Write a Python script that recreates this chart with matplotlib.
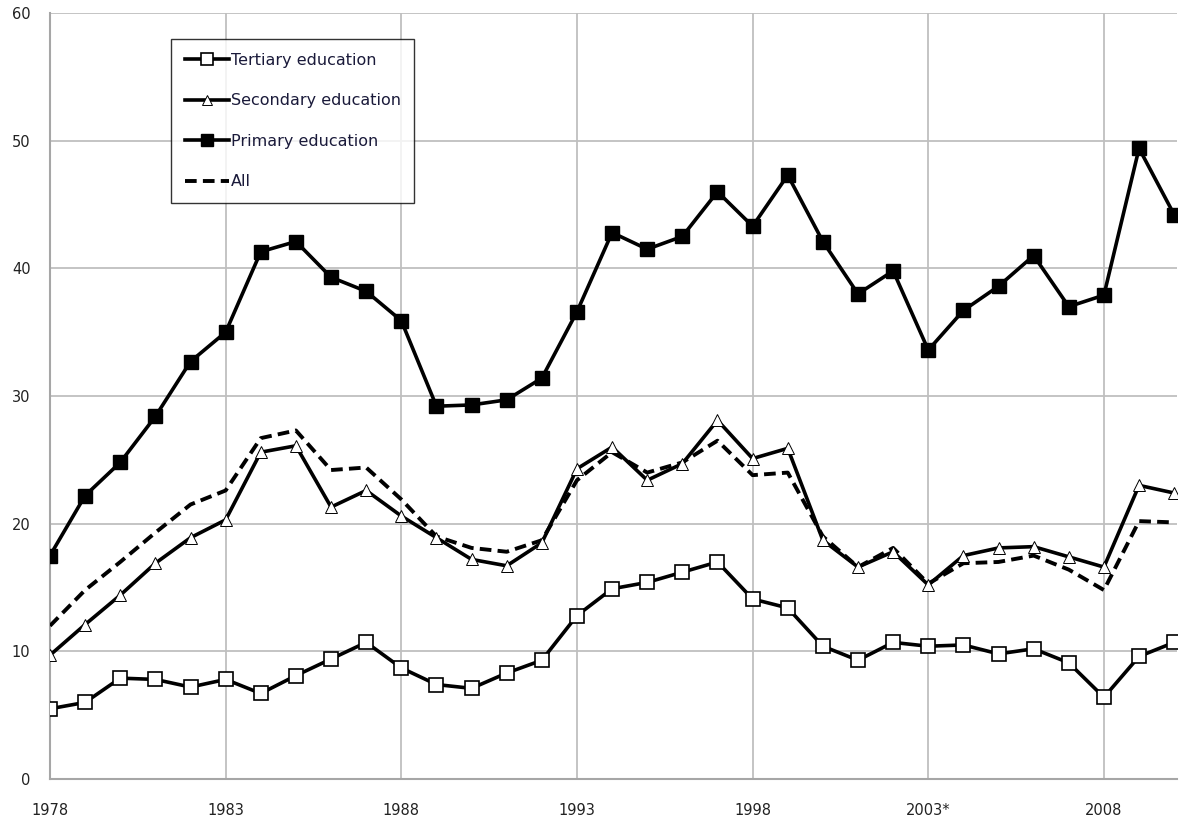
import numpy as np
import matplotlib
matplotlib.use("Agg")
import matplotlib.pyplot as plt

years = list(range(1978, 2011))

tertiary = [5.5, 6.0, 7.9, 7.8, 7.2, 7.8, 6.7, 8.1, 9.4, 10.7, 8.7,
            7.4, 7.1, 8.3, 9.3, 12.8, 14.9, 15.4, 16.2, 17.0, 14.1,
            13.4, 10.4, 9.3, 10.7, 10.4, 10.5, 9.8, 10.2, 9.1, 6.4,
            9.6, 10.7]
secondary = [9.7, 12.1, 14.4, 16.9, 18.9, 20.3, 25.6, 26.1, 21.3, 22.6, 20.6,
             18.9, 17.2, 16.7, 18.5, 24.3, 26.0, 23.4, 24.7, 28.1, 25.1,
             25.9, 18.7, 16.6, 17.8, 15.2, 17.5, 18.1, 18.2, 17.4, 16.6,
             23.0, 22.4]
primary = [17.5, 22.2, 24.8, 28.4, 32.7, 35.0, 41.3, 42.1, 39.3, 38.2, 35.9,
           29.2, 29.3, 29.7, 31.4, 36.6, 42.8, 41.5, 42.5, 46.0, 43.3,
           47.3, 42.1, 38.0, 39.8, 33.6, 36.7, 38.6, 41.0, 37.0, 37.9,
           49.4, 44.2]
all_edu = [12.0, 14.8, 17.0, 19.3, 21.5, 22.6, 26.7, 27.3, 24.2, 24.4, 21.9,
           19.0, 18.1, 17.8, 18.7, 23.4, 25.6, 24.0, 24.8, 26.5, 23.8,
           24.0, 19.0, 16.6, 18.1, 15.3, 16.9, 17.0, 17.5, 16.4, 14.8,
           20.2, 20.1]

xtick_pos = [1978, 1983, 1988, 1993, 1998, 2003, 2008]
xtick_lab = ['1978', '1983', '1988', '1993', '1998', '2003*', '2008']
ytick_pos = [0, 10, 20, 30, 40, 50, 60]

plt.rcParams['font.family'] = ['DejaVu Sans']

fig = plt.figure(figsize=(11.79, 8.23), dpi=100)
ax = fig.add_axes([50/1179, 1-779/823, 1127/1179, 766/823])

lw = 2.6
ax.plot(years, tertiary, color='black', lw=lw, marker='s', ms=10,
        mfc='white', mec='black', mew=1.2, label='Tertiary education', zorder=5)
ax.plot(years, secondary, color='black', lw=lw, marker='^', ms=9,
        mfc='white', mec='black', mew=0.7, label='Secondary education', zorder=4)
ax.plot(years, primary, color='black', lw=lw, marker='s', ms=9.5,
        mfc='black', mec='black', label='Primary education', zorder=5)
ax.plot(years, all_edu, color='black', lw=2.8, linestyle=(0, (3, 1.6)),
        label='All', zorder=3)

ax.set_xlim(1978, 2010.08)
ax.set_ylim(0, 60)
ax.set_xticks(xtick_pos)
ax.set_xticklabels(xtick_lab)
ax.set_yticks(ytick_pos)
ax.grid(True, color='#bfbfbf', lw=1.3)
ax.set_axisbelow(True)
ax.tick_params(axis='both', length=0, colors='#222222')
ax.tick_params(axis='x', pad=17, labelsize=10.5)
ax.tick_params(axis='y', pad=14, labelsize=10.5)
for s in ['top', 'right']:
    ax.spines[s].set_visible(False)
for s in ['left', 'bottom']:
    ax.spines[s].set_color('#a6a6a6')
    ax.spines[s].set_linewidth(1.5)

leg = ax.legend(loc='upper left', bbox_to_anchor=(171/1179, 1-39/823),
                bbox_transform=fig.transFigure, borderaxespad=0,
                frameon=True, fancybox=False, fontsize=11.5, handlelength=2.8,
                handletextpad=0.1, labelspacing=1.6, borderpad=0.85,
                markerscale=0.85)
leg.get_frame().set_edgecolor('black')
leg.get_frame().set_linewidth(1.0)
for t in leg.get_texts():
    t.set_color('#1a1a3a')

fig.savefig('out.png', dpi=100)
